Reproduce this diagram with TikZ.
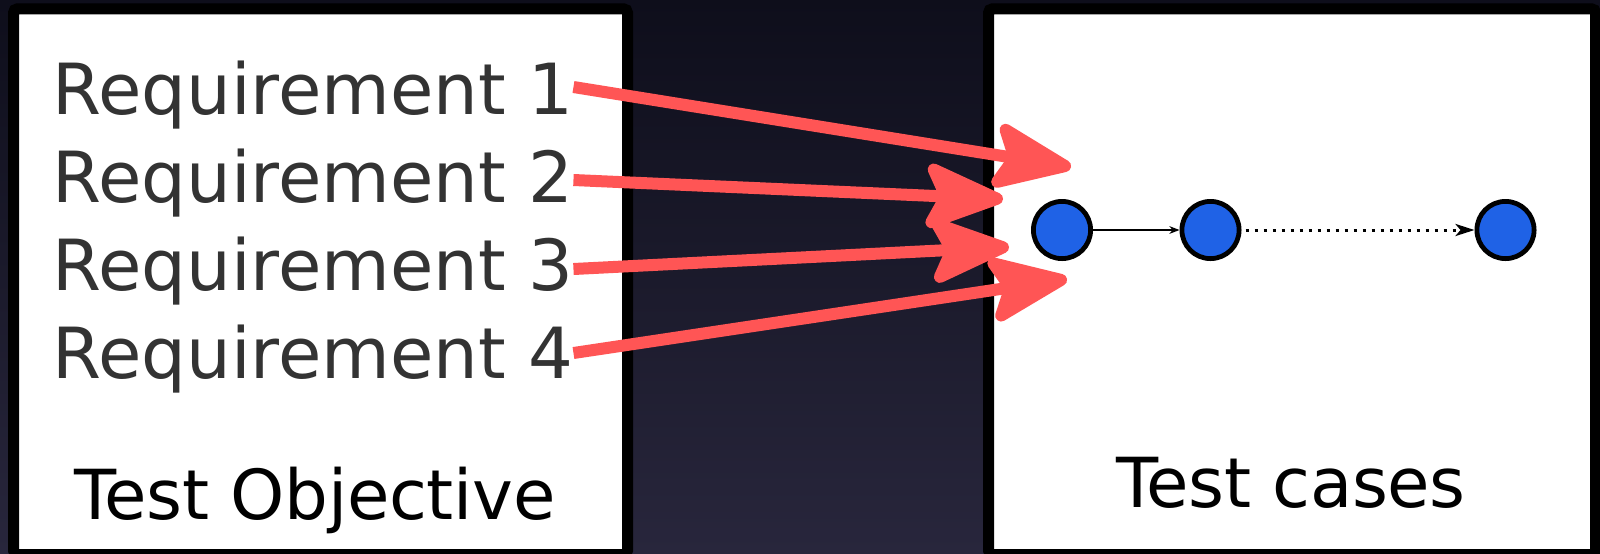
\documentclass[tikz,border=0pt]{standalone}
\usepackage{fontspec}
\setmainfont{DejaVu Sans}
\newfontfamily\lblfont[LetterSpace=-0.5]{DejaVu Sans}
\usetikzlibrary{arrows.meta}
\definecolor{bgtop}{RGB}{14,14,27}
\definecolor{bgbot}{RGB}{40,38,60}
\definecolor{reqred}{RGB}{255,85,85}
\definecolor{nodeblue}{RGB}{31,98,230}
\definecolor{reqgray}{RGB}{51,51,51}
\begin{document}
\begin{tikzpicture}[x=0.5pt,y=-0.5pt,
  panel/.style={draw=black, fill=white, line width=5.5pt, rounded corners=2pt},
  reqtext/.style={anchor=base west, inner sep=0pt, text=reqgray, font=\fontsize{35.25pt}{40pt}\selectfont},
  title/.style={anchor=base, inner sep=0pt, text=black, font=\lblfont\fontsize{34.5pt}{40pt}\selectfont},
  link/.style={draw=reqred, line width=6pt, -{Stealth[length=46pt,width=37pt,inset=9pt,round]}},
  tc/.style={circle, draw=black, fill=nodeblue, line width=2.4pt, minimum size=28.6pt, inner sep=0pt},
  solidedge/.style={draw=black, line width=0.85pt, -{Stealth[length=5pt,width=3.8pt,inset=1.5pt]}},
  dotedge/.style={draw=black, line width=1.5pt, dash pattern=on 1.5pt off 3pt, shorten <=2pt, -{Stealth[length=9.5pt,width=6pt,inset=2.5pt]}}
]
\useasboundingbox (0,0) rectangle (1600,553);
\clip (0,0) rectangle (1600,553);
\shade[top color=bgtop, bottom color=bgbot] (0,0) rectangle (1600,553);

% panels
\draw[panel] (13.5,8.8) rectangle (627.5,554.5);
\draw[panel] (988.5,8.8) rectangle (1595.5,554.5);

% requirement texts
\node[reqtext] (r1) at (52,114) {Requirement 1};
\node[reqtext] (r2) at (52,202) {Requirement 2};
\node[reqtext] (r3) at (52,290) {Requirement 3};
\node[reqtext] (r4) at (52,378) {Requirement 4};

% titles
\node[title] (obj) at (315,519) {Test Objective};
\node[title] (cases) at (1291,507) {Test cases};

% test case nodes
\node[tc] (c1) at (1062,230) {};
\node[tc] (c2) at (1210.5,230) {};
\node[tc] (c3) at (1505.5,230) {};
\draw[solidedge] (c1) -- (c2);
\draw[dotedge] (c2) -- (c3);

% arrow tips
\coordinate (t1) at (1071,167);
\coordinate (t2) at (1003,199);
\coordinate (t3) at (1009,247);
\coordinate (t4) at (1067,279);

\draw[link] ([yshift=13.5pt]r1.base east) -- (t1);
\draw[link] ([yshift=11pt]r2.base east) -- (t2);
\draw[link] ([yshift=10.5pt]r3.base east) -- (t3);
\draw[link] ([yshift=12.5pt]r4.base east) -- (t4);
\end{tikzpicture}
\end{document}
